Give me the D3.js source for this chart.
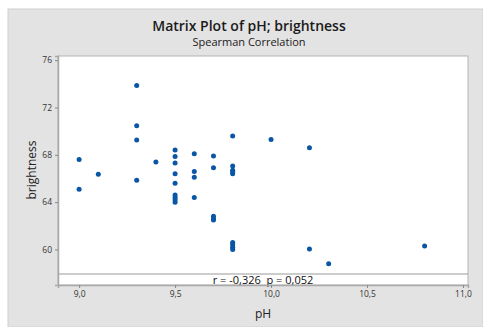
<!DOCTYPE html>
<html>
<head>
<meta charset="utf-8">
<script src="https://cdn.jsdelivr.net/npm/d3@7"></script>
<style>
  body { margin: 0; background: #fff; }
  text { font-family: "Open Sans", "Noto Sans", sans-serif; }
</style>
</head>
<body>
<div id="chart"></div>
<script>
const ph = [9.0, 9.0, 9.1, 9.3, 9.3, 9.3, 9.3, 9.4,
    9.5, 9.5, 9.5, 9.5, 9.5, 9.5, 9.5, 9.5, 9.5,
    9.6, 9.6, 9.6, 9.6,
    9.7, 9.7, 9.7, 9.7, 9.7,
    9.8, 9.8, 9.8, 9.8, 9.8, 9.8, 9.8, 9.8, 9.8,
    10.0, 10.2, 10.2, 10.3, 10.8]
const brightness = [67.6, 65.1, 66.35, 73.85, 70.45, 69.25, 65.85, 67.4,
    68.4, 67.85, 67.3, 66.4, 65.6, 64.6, 64.4, 64.2, 64.0,
    68.1, 66.6, 66.1, 64.4,
    67.9, 66.9, 62.8, 62.6, 62.5,
    69.6, 67.05, 66.7, 66.55, 66.4, 60.6, 60.4, 60.2, 60.0,
    69.3, 68.6, 60.05, 58.8, 60.3]
const xTicks = [9.0, 9.5, 10.0, 10.5, 11.0]
const yTicks = [60, 64, 68, 72, 76]
const title = 'Matrix Plot of pH; brightness'
const subtitle = 'Spearman Correlation'
const stats = 'r = -0,326  p = 0,052'

const width = 483, height = 327
const plot = {left: 58, top: 56, right: 468, bottom: 285}
const fmt = v => d3.format('.1f')(v).replace('.', ',')

const svg = d3.select('#chart').append('svg')
    .attr('width', width)
    .attr('height', height)

svg.append('rect')
    .attr('x', 8).attr('y', 9)
    .attr('width', width - 8).attr('height', height - 9)
    .attr('fill', '#e3e3e3')
    .attr('stroke', '#d0d0d0')

svg.append('text')
    .attr('x', 249).attr('y', 31)
    .attr('text-anchor', 'middle')
    .attr('font-size', 14).attr('font-weight', 600)
    .attr('fill', '#1a1a1a')
    .text(title)

svg.append('text')
    .attr('x', 249).attr('y', 46)
    .attr('text-anchor', 'middle')
    .attr('font-size', 11)
    .attr('fill', '#1a1a1a')
    .text(subtitle)

const x = d3.scaleLinear().domain([8.89, 11.026]).range([plot.left, plot.right])
const y = d3.scaleLinear().domain([57, 76.35]).range([plot.bottom, plot.top])

svg.append('rect')
    .attr('x', plot.left).attr('y', plot.top)
    .attr('width', plot.right - plot.left).attr('height', plot.bottom - plot.top)
    .attr('fill', '#fff')
    .attr('stroke', '#b4b4b4')

// stats strip at the bottom of the panel
svg.append('line')
    .attr('x1', plot.left).attr('x2', plot.right)
    .attr('y1', 274).attr('y2', 274)
    .attr('stroke', '#9a9a9a')

svg.append('text')
    .attr('x', 263).attr('y', 283.5)
    .attr('text-anchor', 'middle')
    .attr('font-size', 11)
    .attr('fill', '#111')
    .style('white-space', 'pre')
    .text(stats)

const xAxis = svg.append('g')
    .attr('transform', `translate(0, ${plot.bottom})`)
    .call(d3.axisBottom(x).tickValues(xTicks).tickFormat(fmt).tickSize(3).tickPadding(3))
const yAxis = svg.append('g')
    .attr('transform', `translate(${plot.left}, 0)`)
    .call(d3.axisLeft(y).tickValues(yTicks).tickSize(3).tickPadding(3))

for (const g of [xAxis, yAxis]) {
    g.select('.domain').attr('stroke', '#a8a8a8').attr('stroke-width', 1.5)
    g.selectAll('.tick line').attr('stroke', '#888')
    g.selectAll('.tick text')
        .attr('font-family', '"Open Sans", sans-serif')
        .attr('font-size', 8.5)
        .attr('fill', '#333')
}

svg.append('text')
    .attr('x', 263).attr('y', 318)
    .attr('text-anchor', 'middle')
    .attr('font-size', 12)
    .attr('fill', '#222')
    .text('pH')

svg.append('text')
    .attr('transform', 'translate(36, 170) rotate(-90)')
    .attr('text-anchor', 'middle')
    .attr('font-size', 12)
    .attr('fill', '#222')
    .text('brightness')

svg.append('g')
    .selectAll('circle')
    .data(ph.map((p, i) => [p, brightness[i]]))
    .join('circle')
    .attr('cx', d => x(d[0]))
    .attr('cy', d => y(d[1]))
    .attr('r', 2.5)
    .attr('fill', '#0a56a6')
</script>
</body>
</html>
